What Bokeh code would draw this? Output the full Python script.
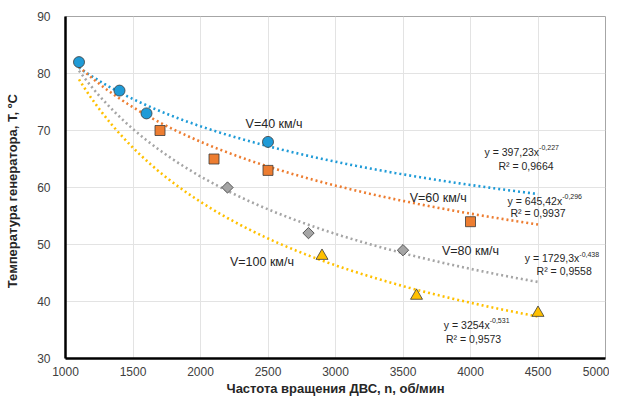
import numpy as np
from bokeh.plotting import figure
from bokeh.models import Label, FixedTicker
from bokeh.embed import file_html
from bokeh.resources import INLINE

# Data points
x40 = [1100, 1400, 1600, 2500]
y40 = [82, 77, 73, 68]
x60 = [1700, 2100, 2500, 4000]
y60 = [70, 65, 63, 54]
x80 = [2200, 2800, 3500]
y80 = [60, 52, 49]
x100 = [2900, 3600, 4500]
y100 = [48, 41, 38]

# Power trendline coefficients as printed on the chart: y = a * x^b
coef_a = [397.23, 645.42, 1729.3, 3254.0]
coef_b = [-0.227, -0.296, -0.438, -0.531]
r2 = ["0,9664", "0,9937", "0,9558", "0,9573"]
eq_main = ["y = 397,23x", "y = 645,42x", "y = 1729,3x", "y = 3254x"]
eq_exp = ["-0,227", "-0,296", "-0,438", "-0,531"]
trend_start, trend_end = 1100, 4500

x_ticks = [1000, 1500, 2000, 2500, 3000, 3500, 4000, 4500, 5000]
y_ticks = [30, 40, 50, 60, 70, 80, 90]
x_title = "Частота вращения ДВС, n, об/мин"
y_title = "Температура   генератора, Т, ºС"

FONT = "Liberation Sans"
colors = ["#1F9BD7", "#ED7D31", "#A5A5A5", "#FFC000"]

p = figure(width=609, height=398, x_range=(1000, 5000), y_range=(30, 90),
           output_backend="svg", toolbar_location=None,
           min_border_left=65, min_border_right=4, min_border_top=16, min_border_bottom=20)

p.outline_line_color = "#A6A6A6"
p.outline_line_width = 1
p.background_fill_color = "white"
p.border_fill_color = "white"

p.xaxis.ticker = FixedTicker(ticks=x_ticks)
p.yaxis.ticker = FixedTicker(ticks=y_ticks)
p.xgrid.ticker = FixedTicker(ticks=x_ticks)
p.ygrid.ticker = FixedTicker(ticks=y_ticks)
p.grid.grid_line_color = "#E3E3E3"
p.grid.grid_line_width = 1

for ax in (p.xaxis, p.yaxis):
    ax.axis_line_color = "black"
    ax.axis_line_width = 2.5
    ax.major_tick_line_color = None
    ax.minor_tick_line_color = None
    ax.major_label_text_font = FONT
    ax.major_label_text_font_size = "12px"
    ax.major_label_text_color = "#404040"
    ax.axis_label_text_font = FONT
    ax.axis_label_text_font_size = "13px"
    ax.axis_label_text_font_style = "bold"
    ax.axis_label_text_color = "#262626"

p.xaxis.major_label_standoff = 2
p.xaxis.axis_label_standoff = 2
p.yaxis.major_label_standoff = 9
p.yaxis.axis_label_standoff = 14
p.xaxis.axis_label = x_title
p.yaxis.axis_label = y_title

# Trendlines
xs = np.linspace(trend_start, trend_end, 200)
for a, b, c in zip(coef_a, coef_b, colors):
    p.line(xs, a * xs ** b, line_color=c, line_width=2.6, line_dash="2 3")

# Markers
outline = "#3A3A3A"
p.scatter(x40, y40, marker="circle", size=11, fill_color=colors[0], line_color=outline, line_width=0.8)
p.scatter(x60, y60, marker="square", size=10, fill_color=colors[1], line_color=outline, line_width=0.8)
p.scatter(x80, y80, marker="square", size=8, angle=np.pi / 4, fill_color=colors[2], line_color=outline, line_width=0.8)
p.scatter(x100, y100, marker="triangle", size=12, fill_color=colors[3], line_color=outline, line_width=0.8)

# Speed labels
speed_labels = [("V=40 км/ч", 2545, 71.2), ("V=60 км/ч", 3761, 58.2),
                ("V=80 км/ч", 4000, 48.8), ("V=100 км/ч", 2455, 47.0)]
for t, x, y in speed_labels:
    p.add_layout(Label(x=x, y=y, text=t, text_font=FONT, text_font_size="12.5px",
                       text_color="#262626", text_align="center", text_baseline="middle"))

# Equation labels
eq_anchor = [(4508, 66.3), (4679, 57.7), (4806, 47.6), (4142, 35.9)]
r2_pos = [(4411, 63.8), (4500, 55.5), (4694, 45.3), (4023, 33.4)]
for i in range(4):
    ax_, ay_ = eq_anchor[i]
    p.add_layout(Label(x=ax_, y=ay_, text=eq_main[i], text_font=FONT, text_font_size="10.5px",
                       text_color="#262626", text_align="right", text_baseline="middle"))
    p.add_layout(Label(x=ax_, y=ay_, y_offset=4, text=eq_exp[i], text_font=FONT, text_font_size="7px",
                       text_color="#262626", text_align="left", text_baseline="middle"))
    rx, ry = r2_pos[i]
    p.add_layout(Label(x=rx, y=ry, text="R² = " + r2[i], text_font=FONT, text_font_size="10.5px",
                       text_color="#262626", text_align="center", text_baseline="middle"))

open("out.html", "w").write(file_html(p, INLINE))
